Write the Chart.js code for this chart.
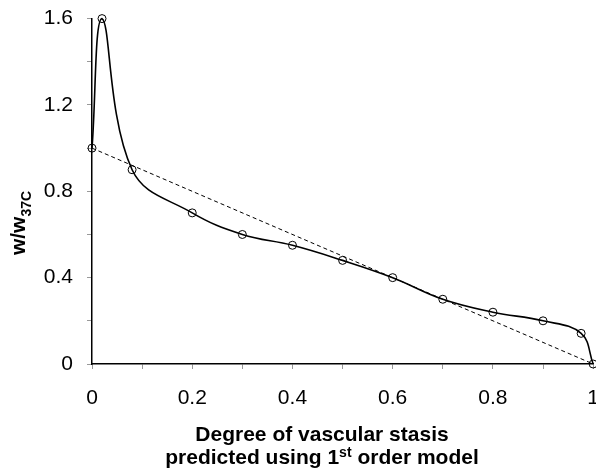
<!DOCTYPE html>
<html><head><meta charset="utf-8">
<script src="https://cdn.jsdelivr.net/npm/chart.js@4"></script>
<style>
html,body{margin:0;padding:0;background:#fff;overflow:hidden;}
#wrap{width:616px;height:479px;position:relative;margin-top:-8px;}
</style></head>
<body><div id="wrap"><canvas id="c"></canvas></div>
<script>
const xValues = [0, 0.02, 0.08, 0.2, 0.3, 0.4, 0.5, 0.6, 0.7, 0.8, 0.9, 0.976, 1];
const yValues = [1, 1.6, 0.9, 0.7, 0.6, 0.55, 0.48, 0.4, 0.3, 0.24, 0.2, 0.142, 0];
const fitX = [0, 1];
const fitY = [1, 0];
const xTickLabels = ["0", "0.2", "0.4", "0.6", "0.8", "1"];
const yTickLabels = ["0", "0.4", "0.8", "1.2", "1.6"];

const FONT = "'Liberation Sans', Arial, sans-serif";
const SHIFT = 8; // canvas is offset upward by this many pixels

const titles = {
  id: 'titles',
  afterDraw(chart) {
    const ctx = chart.ctx;
    ctx.save();
    ctx.fillStyle = '#000';
    ctx.textBaseline = 'alphabetic';
    // x title
    const cx = 322;
    ctx.textAlign = 'center';
    ctx.font = "bold 21px " + FONT;
    ctx.fillText('Degree of vascular stasis', cx, 441 + SHIFT);
    const a = 'predicted using 1', s = 'st', b = ' order model';
    const wa = ctx.measureText(a).width, wb = ctx.measureText(b).width;
    ctx.font = "bold 14px " + FONT;
    const ws = ctx.measureText(s).width;
    const x0 = cx - (wa + ws + wb) / 2;
    ctx.textAlign = 'left';
    ctx.font = "bold 21px " + FONT;
    ctx.fillText(a, x0, 464 + SHIFT);
    ctx.font = "bold 14px " + FONT;
    ctx.fillText(s, x0 + wa, 457 + SHIFT);
    ctx.font = "bold 21px " + FONT;
    ctx.fillText(b, x0 + wa + ws, 464 + SHIFT);
    // y title
    ctx.translate(25, 223 + SHIFT);
    ctx.rotate(-Math.PI / 2);
    const m = 'w/w', sub = '37C';
    ctx.font = "bold 21px " + FONT;
    const wm = ctx.measureText(m).width;
    ctx.font = "bold 14px " + FONT;
    const wsub = ctx.measureText(sub).width;
    const y0 = -(wm + wsub) / 2;
    ctx.font = "bold 21px " + FONT;
    ctx.fillText(m, y0, 0);
    ctx.font = "bold 14px " + FONT;
    ctx.fillText(sub, y0 + wm, 6);
    ctx.restore();
  }
};

new Chart(document.getElementById('c'), {
  type: 'scatter',
  data: {
    datasets: [
      {
        data: xValues.map((x, i) => ({x, y: yValues[i]})),
        showLine: true,
        tension: 0.4,
        borderColor: '#000',
        borderWidth: 1.6,
        pointRadius: 4,
        pointBorderWidth: 1,
        pointBorderColor: '#000',
        pointBackgroundColor: 'rgba(0,0,0,0)',
        clip: false
      },
      {
        data: fitX.map((x, i) => ({x, y: fitY[i]})),
        showLine: true,
        borderColor: '#000',
        borderWidth: 1,
        borderDash: [4, 3],
        pointRadius: 0,
        clip: false
      }
    ]
  },
  options: {
    responsive: true,
    maintainAspectRatio: false,
    animation: false,
    layout: {padding: {top: 0, left: 0, right: 0, bottom: 0}},
    plugins: {legend: {display: false}, tooltip: {enabled: false}},
    scales: {
      x: {
        type: 'linear', min: 0, max: 1,
        afterFit(s) { s.height = 107; },
        border: {color: '#000', width: 1.5},
        grid: {drawOnChartArea: false, drawTicks: true, tickLength: 5, color: '#999'},
        ticks: {
          stepSize: 0.1, autoSkip: false, maxRotation: 0, padding: 17,
          color: '#000', font: {family: FONT, size: 21},
          callback(v) {
            const k = Math.round(v * 10);
            return k % 2 === 0 ? xTickLabels[k / 2] : '';
          }
        }
      },
      y: {
        type: 'linear', min: 0, max: 1.6,
        afterFit(s) { s.width = 92; },
        border: {color: '#000', width: 1.5},
        grid: {drawOnChartArea: false, drawTicks: true, tickLength: 5, color: '#999'},
        ticks: {
          stepSize: 0.2, autoSkip: false, padding: 14,
          color: '#000', font: {family: FONT, size: 21},
          callback(v) {
            const k = Math.round(v * 5);
            return k % 2 === 0 ? yTickLabels[k / 2] : '';
          }
        }
      }
    }
  },
  plugins: [titles]
});
</script></body></html>
